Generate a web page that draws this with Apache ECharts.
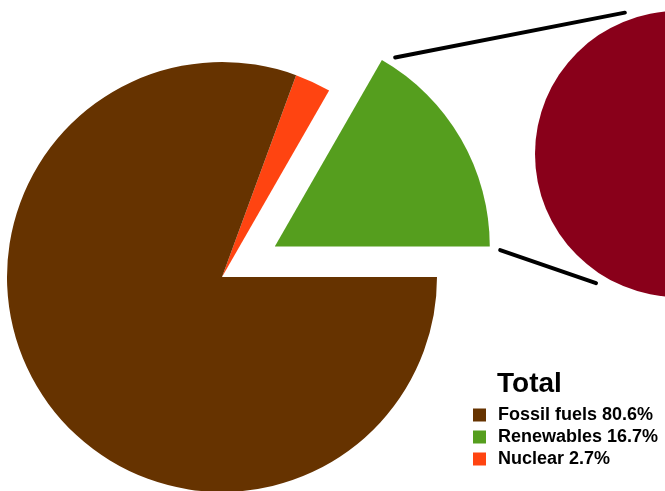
<!DOCTYPE html>
<html lang="en">
<head>
    <meta charset="UTF-8">
    <title>Total</title>
    <script src="https://cdn.jsdelivr.net/npm/echarts@6/dist/echarts.min.js"></script>
    <style>
        *{
            margin:0;
            padding:0;
            overflow: hidden;
        }
        .main{
            width:665px;
            height:491px;
            background-color:#ffffff;
        }
    </style>
</head>
<body>
    <div class="main"></div>
    <script>
        // data
        var names=['Renewables','Nuclear','Fossil fuels']
        var values=[16.7,2.7,80.6]
        var colors=['#559e1e','#ff4411','#663300']
        var legendOrder=['Fossil fuels','Renewables','Nuclear']
        var detailNames=['Renewables detail']
        var detailValues=[16.7]

        // geometry of the two pies
        var c1=[222,277], r1=215, pull=61
        var c2=[678,154], r2=143

        var mainData=[]
        for (var i=0;i<names.length;i++){
            mainData.push({
                name:names[i],
                value:values[i],
                selected:names[i]==='Renewables',
                itemStyle:{color:colors[i]}
            })
        }

        // connector lines: from exploded wedge corners to the second pie
        var total=values.reduce(function(a,b){return a+b},0)
        var span=values[0]/total*2*Math.PI
        var mid=span/2
        var wc=[c1[0]+pull*Math.cos(mid),c1[1]-pull*Math.sin(mid)] //wedge apex
        function onCircle(c,r,deg){
            var a=deg*Math.PI/180
            return [c[0]+r*Math.cos(a),c[1]-r*Math.sin(a)]
        }
        function connector(p,q,trim){
            var dx=q[0]-p[0],dy=q[1]-p[1],len=Math.sqrt(dx*dx+dy*dy)
            return {
                type:'line',
                shape:{x1:p[0]+dx/len*trim,y1:p[1]+dy/len*trim,x2:q[0],y2:q[1]},
                style:{stroke:'#000',lineWidth:4,lineCap:'round'},
                z:10
            }
        }
        var topTip=[wc[0]+r1*Math.cos(span),wc[1]-r1*Math.sin(span)]
        var rightTip=[wc[0]+r1,wc[1]]
        var lines=[
            connector(topTip,onCircle(c2,r2+8,110.6),13.5),
            connector(rightTip,onCircle(c2,r2+10,237.6),11)
        ]

        var myChart=echarts.init(document.querySelector('.main'),null,{renderer:'canvas'})
        var option={
            animation:false,
            title:{
                text:'Total',
                left:497,
                top:370,
                padding:0,
                textStyle:{
                    color:'#000',
                    fontSize:28,
                    fontWeight:'bold',
                    fontFamily:'Liberation Sans'
                }
            },
            legend:{
                data:legendOrder,
                orient:'vertical',
                left:473,
                top:406,
                padding:0,
                itemWidth:13,
                itemHeight:13,
                itemGap:4,
                icon:'rect',
                selectedMode:false,
                formatter:function(name){
                    return name+' '+values[names.indexOf(name)].toFixed(1)+'%'
                },
                textStyle:{
                    color:'#000',
                    fontSize:18,
                    fontWeight:'bold',
                    fontFamily:'Liberation Sans',
                    padding:[0,0,0,7]
                }
            },
            graphic:lines,
            series:[
                {
                    type:'pie',
                    center:c1,
                    radius:[0,r1],
                    startAngle:0,
                    clockwise:false,
                    selectedMode:'single',
                    selectedOffset:pull,
                    label:{show:false},
                    labelLine:{show:false},
                    emphasis:{disabled:true},
                    itemStyle:{borderWidth:0},
                    data:mainData
                },
                {
                    type:'pie',
                    center:c2,
                    radius:[0,r2],
                    label:{show:false},
                    labelLine:{show:false},
                    emphasis:{disabled:true},
                    itemStyle:{borderWidth:0,color:'#89001a'},
                    data:[{name:detailNames[0],value:detailValues[0]}]
                }
            ]
        }
        myChart.setOption(option)
    </script>
</body>
</html>
